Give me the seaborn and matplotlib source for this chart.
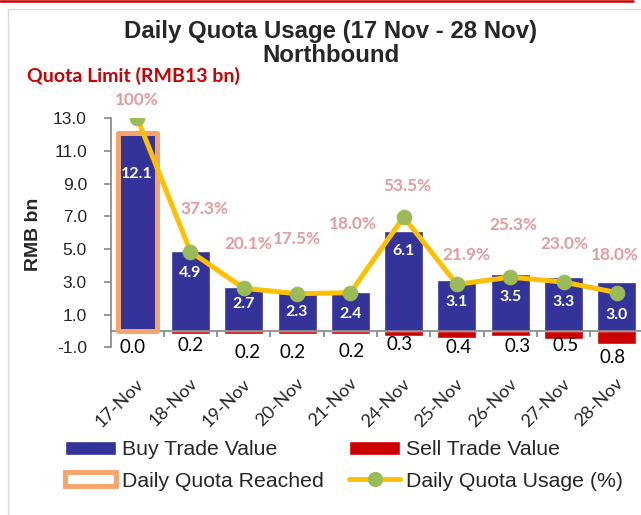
import numpy as np
import pandas as pd

import matplotlib
matplotlib.use('Agg')
import matplotlib.pyplot as plt
import matplotlib.transforms as mtransforms
from matplotlib.patches import Patch
from matplotlib.lines import Line2D

import seaborn as sns

# data
dates = ['17-Nov', '18-Nov', '19-Nov', '20-Nov', '21-Nov',
         '24-Nov', '25-Nov', '26-Nov', '27-Nov', '28-Nov']
buy_value = [12.1, 4.9, 2.7, 2.3, 2.4, 6.1, 3.1, 3.5, 3.3, 3.0]
sell_value = [0.0, 0.2, 0.2, 0.2, 0.2, 0.3, 0.4, 0.3, 0.5, 0.8]
usage_pct = [100.0, 37.3, 20.1, 17.5, 18.0, 53.5, 21.9, 25.3, 23.0, 18.0]
quota_limit = 13.0

# label nudges in pixels (style only)
buy_lab_dy = [41, 22, 17, 19, 22, 20, 22, 23, 25, 33]
pct_lab_dx = [0, 14, 5, 0, 2, 4, 9, 3, 1, -2]
pct_lab_dy = [18, 43, 44, 55, 69, 31, 29, 52, 38, 38]
sell_lab_dx = [-5, 0, 4, -4, 1, -4, 2, 7, 2, -4]
sell_lab_dy = [16, 11, 18, 18, 17, 9, 10, 11, 6, 13]

BLUE = '#333399'
RED = '#CC0000'
ORANGE = '#F7A46B'
YELLOW = '#FFC000'
GREEN = '#9BBB59'
PINK = '#E39B9B'
GRAY = '#868686'

sns.set_style('white')
plt.rcParams['font.family'] = ['Liberation Sans', 'DejaVu Sans']

df = pd.DataFrame({
    'date': dates,
    'buy': buy_value,
    'sell': [-s for s in sell_value],
    'usage': [p / 100 * quota_limit for p in usage_pct],
    'reached': [b if p >= 100 else np.nan for b, p in zip(buy_value, usage_pct)],
})
pos = np.arange(len(dates))

fig = plt.figure(figsize=(6.41, 5.15), dpi=100)
W, H = 641, 515
ax = fig.add_axes([110.5 / W, (H - 347.4) / H, 533 / W, 229.4 / H])

sns.barplot(data=df, x='date', y='buy', color=BLUE, saturation=1,
            width=0.73, ax=ax, zorder=2)
sns.barplot(data=df, x='date', y='sell', color=RED, saturation=1,
            width=0.73, ax=ax, zorder=2)
ax.bar(pos, df['reached'], width=0.73, facecolor='none', edgecolor=ORANGE,
       linewidth=3.6, joinstyle='round', zorder=3)
sns.lineplot(x=pos, y=df['usage'], color=YELLOW, linewidth=3.6, marker='o',
             markersize=10.5, markerfacecolor=GREEN, markeredgecolor=GREEN,
             ax=ax, zorder=4)

px = 72 / 100  # pixels -> points
for i in range(len(dates)):
    ax.annotate(f'{buy_value[i]:.1f}', (i, buy_value[i]),
                xytext=(0, -buy_lab_dy[i] * px), textcoords='offset points',
                ha='center', va='center', color='white', fontweight='bold',
                family='Lato', fontsize=11.5, zorder=5)
    pct_txt = f'{usage_pct[i]:.0f}%' if usage_pct[i] >= 100 else f'{usage_pct[i]:.1f}%'
    ax.annotate(pct_txt, (i, df['usage'][i]),
                xytext=(pct_lab_dx[i] * px, pct_lab_dy[i] * px),
                textcoords='offset points', ha='center', va='center',
                color=PINK, fontweight='bold', family='Lato', fontsize=12.3,
                zorder=5)
    ax.annotate(f'{sell_value[i]:.1f}', (i, -sell_value[i]),
                xytext=(sell_lab_dx[i] * px, -sell_lab_dy[i] * px),
                textcoords='offset points', ha='center', va='center',
                color='black', family='Lato', fontsize=13.5, zorder=5)

# spines first: moving a spine resets the ticks
for side in ['top', 'right']:
    ax.spines[side].set_visible(False)
ax.spines['bottom'].set_position(('data', 0))
ax.spines['bottom'].set_color(GRAY)
ax.spines['bottom'].set_linewidth(1.2)
ax.spines['bottom'].set_zorder(2.5)
ax.spines['left'].set_color(GRAY)
ax.spines['left'].set_linewidth(1.2)

# axes styling
ax.set_xlim(-0.5, len(dates) - 0.5)
ax.set_ylim(-1, 13)
ax.set_yticks(np.arange(-1, 14, 2))
ax.set_yticklabels([f'{v:.1f}' for v in np.arange(-1, 14, 2)])
ax.tick_params(axis='y', direction='out', length=5, width=1.2, color=GRAY,
               pad=12, labelsize=12.5, left=True)
ax.set_xticks(pos)
ax.set_xticks(np.arange(0.5, len(dates), 1), minor=True)
ax.set_xticklabels(dates)
ax.tick_params(axis='x', which='major', length=0, pad=36, labelsize=13)
ax.tick_params(axis='x', which='minor', direction='out', length=4,
               width=1.2, color=GRAY, bottom=True)
offset = mtransforms.ScaledTranslation(3 / 72, 0, fig.dpi_scale_trans)
for lab in ax.get_xticklabels():
    lab.set_rotation(45)
    lab.set_ha('right')
    lab.set_va('center')
    lab.set_rotation_mode('anchor')
    lab.set_family('Lato')
    lab.set_transform(lab.get_transform() + offset)

ax.set_xlabel('')
ax.set_ylabel('RMB bn', fontsize=14, fontweight='bold')
ax.yaxis.set_label_coords((42 - 110.5) / 533, 0.494)

# titles
fig.text(331 / W, 1 - 43.5 / H, 'Daily Quota Usage (17 Nov - 28 Nov)\nNorthbound',
         ha='center', va='center', fontsize=17.3, fontweight='bold',
         linespacing=1.05)
fig.text(27 / W, 1 - 76 / H, 'Quota Limit (RMB13 bn)', ha='left', va='center',
         color=RED, fontsize=14, fontweight='bold', family='Lato')

# legend
handles = [
    Patch(facecolor=BLUE),
    Patch(facecolor='white', edgecolor=ORANGE, linewidth=3.5),
    Patch(facecolor=RED),
    Line2D([], [], color=YELLOW, linewidth=3.5, marker='o', markersize=10,
           markerfacecolor=GREEN, markeredgecolor=GREEN),
]
labels = ['Buy Trade Value', 'Daily Quota Reached',
          'Sell Trade Value', 'Daily Quota Usage (%)']
fig.legend(handles, labels, ncol=2, loc='center',
           bbox_to_anchor=(344 / W, 1 - 465.5 / H), frameon=False,
           fontsize=15.3, handlelength=2.4, handleheight=0.62,
           handletextpad=0.3, columnspacing=1.2, labelspacing=0.58)

# outer frame and red top rule
fig.add_artist(Line2D([8 / W, 8 / W], [0, 1 - 9 / H], color='#D9D9D9',
                      linewidth=1, transform=fig.transFigure))
fig.add_artist(Line2D([8 / W, 1], [1 - 9 / H, 1 - 9 / H], color='#D9D9D9',
                      linewidth=1, transform=fig.transFigure))
fig.add_artist(Line2D([0, 633 / W], [1 - 1 / H, 1 - 1 / H], color=RED,
                      linewidth=1.8, transform=fig.transFigure))

fig.savefig('out.png', dpi=100)
